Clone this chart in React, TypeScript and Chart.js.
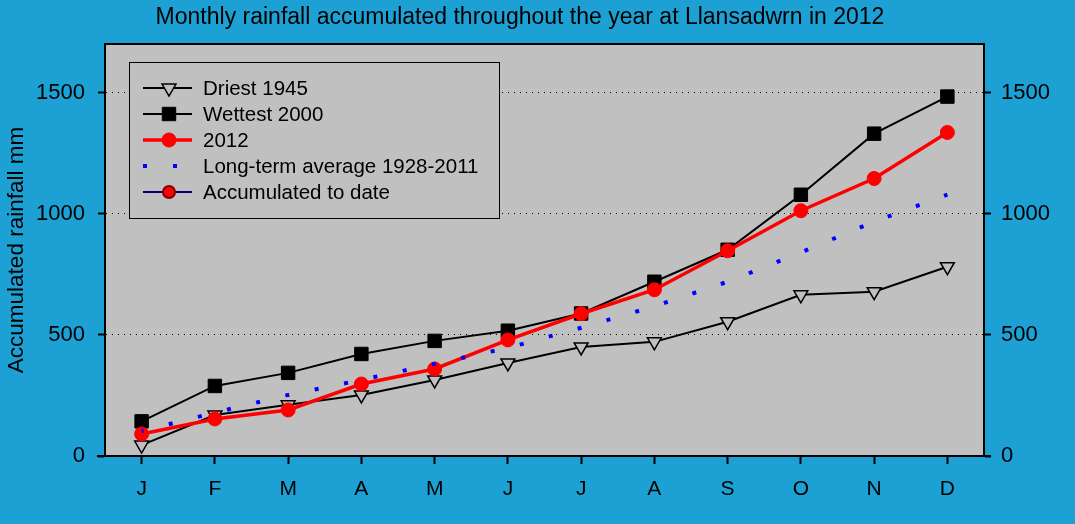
import React, { useEffect, useRef } from 'react';
import { Chart, registerables } from 'chart.js';

Chart.register(...registerables);

// ---------- data ----------
const months = ['J', 'F', 'M', 'A', 'M', 'J', 'J', 'A', 'S', 'O', 'N', 'D'];
const driest1945 = [45, 169, 211, 252, 314, 384, 450, 471, 554, 665, 678, 781];
const wettest2000 = [143, 289, 343, 421, 475, 517, 588, 719, 851, 1078, 1330, 1483];
const rain2012 = [91, 153, 190, 297, 359, 479, 587, 686, 847, 1012, 1145, 1335];
const longTermAvg = [103, 179, 252, 314, 380, 446, 529, 618, 719, 840, 967, 1078];
const accumulatedToDate: (number | null)[] = [null, null, null, null, null, null, null, null, null, null, null, null];
const yTicks = [0, 500, 1000, 1500];

const TITLE = 'Monthly rainfall accumulated throughout the year at Llansadwrn in 2012';
const Y_TITLE = 'Accumulated rainfall mm';

// ---------- style ----------
const BLUE_BG = 'rgb(29,161,213)';
const PLOT_BG = '#c0c0c0';
const FONT = "'Liberation Sans', Arial, Helvetica, sans-serif";

function drawMarker(ctx: CanvasRenderingContext2D, style: string, x: number, y: number, r: number, rot: number, fill: string, stroke: string, bw: number) {
  ctx.save();
  ctx.beginPath();
  if (style === 'triangle') {
    let a = (rot || 0) * Math.PI / 180;
    ctx.moveTo(x + Math.sin(a) * r, y - Math.cos(a) * r);
    a += (2 * Math.PI) / 3;
    ctx.lineTo(x + Math.sin(a) * r, y - Math.cos(a) * r);
    a += (2 * Math.PI) / 3;
    ctx.lineTo(x + Math.sin(a) * r, y - Math.cos(a) * r);
    ctx.closePath();
  } else if (style === 'rect') {
    const s = Math.SQRT1_2 * r;
    ctx.rect(x - s, y - s, 2 * s, 2 * s);
  } else {
    ctx.arc(x, y, r, 0, Math.PI * 2);
  }
  ctx.fillStyle = fill;
  ctx.fill();
  if (bw > 0) {
    ctx.lineWidth = bw;
    ctx.strokeStyle = stroke;
    ctx.stroke();
  }
  ctx.restore();
}

const backgroundPlugin = {
  id: 'sheetBackground',
  beforeDraw(chart: any) {
    const { ctx, width, height, chartArea: a } = chart;
    ctx.save();
    ctx.fillStyle = BLUE_BG;
    ctx.fillRect(0, 0, width, height);
    ctx.fillStyle = PLOT_BG;
    ctx.fillRect(a.left, a.top, a.right - a.left, a.bottom - a.top);
    ctx.restore();
  },
  beforeDatasetsDraw(chart: any) {
    const { ctx, chartArea: a } = chart;
    ctx.save();
    ctx.strokeStyle = '#000';
    ctx.lineWidth = 2;
    ctx.beginPath();
    ctx.moveTo(a.left - 1, a.top);
    ctx.lineTo(a.right + 1, a.top);
    ctx.stroke();
    ctx.beginPath();
    ctx.moveTo(a.left - 8, a.bottom);
    ctx.lineTo(a.right + 7, a.bottom);
    ctx.stroke();
    ctx.restore();
  },
};

const boxLegendPlugin = {
  id: 'boxLegend',
  afterDatasetsDraw(chart: any) {
    const { ctx, chartArea: a } = chart;
    const bx = a.left + 24.5;
    const by = a.top + 18.5;
    const bw = 370;
    const bh = 156;
    ctx.save();
    ctx.fillStyle = PLOT_BG;
    ctx.fillRect(bx, by, bw, bh);
    ctx.strokeStyle = '#000';
    ctx.lineWidth = 1;
    ctx.strokeRect(bx, by, bw, bh);
    chart.data.datasets.forEach((ds: any, i: number) => {
      const y = by + 25.5 + i * 26;
      const x0 = bx + 13.5;
      const x1 = bx + 62.5;
      const xc = bx + 39.5;
      ctx.save();
      ctx.strokeStyle = ds.borderColor;
      ctx.lineWidth = ds.borderWidth;
      ctx.lineCap = 'butt';
      ctx.setLineDash(ds.borderDash || []);
      ctx.beginPath();
      ctx.moveTo(x0, y);
      ctx.lineTo(x1, y);
      ctx.stroke();
      ctx.restore();
      if (ds.pointRadius > 0) {
        drawMarker(ctx, ds.pointStyle, xc, y, ds.pointRadius, ds.pointRotation || 0,
          ds.pointBackgroundColor, ds.pointBorderColor, ds.pointBorderWidth);
      }
      ctx.fillStyle = '#000';
      ctx.font = `20.5px ${FONT}`;
      ctx.textBaseline = 'middle';
      ctx.textAlign = 'left';
      ctx.fillText(ds.label, bx + 73.5, y + 1);
    });
    ctx.restore();
  },
};

export default function App() {
  const canvasRef = useRef<HTMLCanvasElement | null>(null);

  useEffect(() => {
    if (!canvasRef.current) return;
    Chart.defaults.font.family = FONT;
    Chart.defaults.color = '#000';

    const setYTicks = (s: any) => {
      s.ticks = yTicks.map((v) => ({ value: v }));
    };
    const plainLabel = (v: any) => String(v);

    const chart = new Chart(canvasRef.current, {
      type: 'line',
      data: {
        labels: months,
        datasets: [
          {
            label: 'Driest 1945',
            data: driest1945,
            borderColor: '#000',
            borderWidth: 2,
            pointStyle: 'triangle',
            pointRotation: 180,
            pointRadius: 8,
            pointBackgroundColor: PLOT_BG,
            pointBorderColor: '#000',
            pointBorderWidth: 1.5,
            tension: 0,
            order: 4,
          } as any,
          {
            label: 'Wettest 2000',
            data: wettest2000,
            borderColor: '#000',
            borderWidth: 2,
            pointStyle: 'rect',
            pointRadius: 9.5,
            pointBackgroundColor: '#000',
            pointBorderColor: '#000',
            pointBorderWidth: 1,
            tension: 0,
            order: 3,
          } as any,
          {
            label: '2012',
            data: rain2012,
            borderColor: '#ff0000',
            borderWidth: 3.5,
            pointStyle: 'circle',
            pointRadius: 7,
            pointBackgroundColor: '#ff0000',
            pointBorderColor: '#ff0000',
            pointBorderWidth: 1,
            tension: 0,
            order: 2,
          } as any,
          {
            label: 'Long-term average 1928-2011',
            data: longTermAvg,
            borderColor: '#0000ff',
            borderWidth: 4,
            borderDash: [4, 26],
            borderDashOffset: 2,
            borderCapStyle: 'butt',
            pointRadius: 0,
            tension: 0,
            order: 1,
          } as any,
          {
            label: 'Accumulated to date',
            data: accumulatedToDate,
            borderColor: '#000080',
            borderWidth: 2,
            pointStyle: 'circle',
            pointRadius: 6,
            pointBackgroundColor: '#ff0000',
            pointBorderColor: '#800000',
            pointBorderWidth: 2,
            tension: 0,
            order: 0,
          } as any,
        ],
      },
      options: {
        animation: false,
        responsive: false,
        events: [],
        layout: { padding: { left: -15, right: 20, top: 0, bottom: 0 } },
        plugins: {
          legend: { display: false },
          tooltip: { enabled: false },
          title: {
            display: true,
            text: TITLE,
            color: '#000',
            font: { family: FONT, size: 23, weight: 'normal' },
            padding: { top: 4, bottom: 12.4 },
          },
        },
        scales: {
          x: {
            type: 'category',
            offset: true,
            grid: {
              drawOnChartArea: false,
              drawTicks: true,
              tickLength: 8,
              tickWidth: 2,
              tickColor: '#000',
            },
            border: { display: true, color: '#000', width: 2 },
            ticks: { color: '#000', font: { family: FONT, size: 21 }, padding: 13, maxRotation: 0, autoSkip: false },
            afterFit: (s: any) => { s.height = 68; },
          },
          y: {
            type: 'linear',
            position: 'left',
            min: 0,
            max: 1700,
            afterBuildTicks: setYTicks,
            grid: {
              color: (c: any) => (c.tick && c.tick.value === 0 ? 'rgba(0,0,0,0)' : '#000'),
              lineWidth: 1,
              drawTicks: true,
              tickLength: 7,
              tickWidth: 2,
              tickColor: '#000',
            },
            border: { display: true, color: '#000', width: 2, dash: [1, 5] },
            ticks: {
              color: '#000',
              font: { family: FONT, size: 22 },
              padding: 13,
              callback: plainLabel,
            },
            title: {
              display: true,
              text: Y_TITLE,
              color: '#000',
              font: { family: FONT, size: 22.5 },
              padding: { top: 18.5, bottom: 0 },
            },
            afterFit: (s: any) => { s.width = 120; },
          },
          y2: {
            type: 'linear',
            position: 'right',
            display: true,
            min: 0,
            max: 1700,
            afterBuildTicks: setYTicks,
            grid: {
              drawOnChartArea: false,
              drawTicks: true,
              tickLength: 7,
              tickWidth: 2,
              tickColor: '#000',
            },
            border: { display: true, color: '#000', width: 2 },
            ticks: {
              color: '#000',
              font: { family: FONT, size: 22 },
              padding: 10,
              callback: plainLabel,
            },
            afterFit: (s: any) => { s.width = 71; },
          },
        },
      } as any,
      plugins: [backgroundPlugin, boxLegendPlugin],
    });

    return () => chart.destroy();
  }, []);

  return (
    <div style={{ position: 'absolute', left: 0, top: 0, width: 1075, height: 524, background: BLUE_BG }}>
      <canvas ref={canvasRef} width={1075} height={524} style={{ display: 'block', width: 1075, height: 524 }} />
    </div>
  );
}
